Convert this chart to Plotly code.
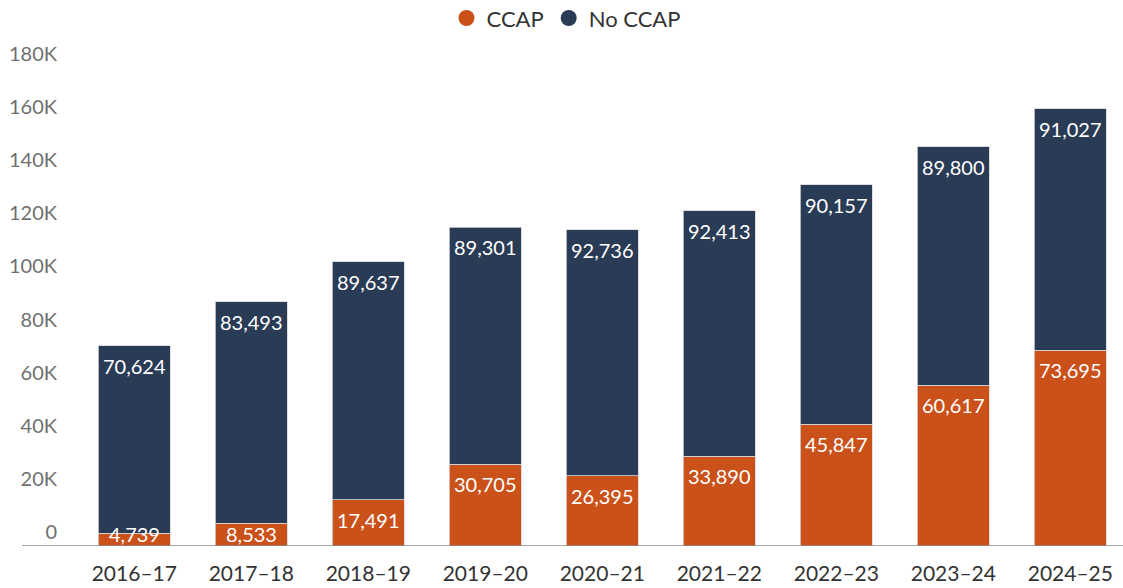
import plotly.graph_objects as go

years = ["2016–17", "2017–18", "2018–19", "2019–20", "2020–21",
         "2021–22", "2022–23", "2023–24", "2024–25"]
ccap = [4739, 8533, 17491, 30705, 26395, 33890, 45847, 60617, 73695]
no_ccap = [70624, 83493, 89637, 89301, 92736, 92413, 90157, 89800, 91027]
y_ticks = [0, 20000, 40000, 60000, 80000, 100000, 120000, 140000, 160000, 180000]
y_tick_text = ["0", "20K", "40K", "60K", "80K", "100K", "120K", "140K", "160K", "180K"]

ORANGE = "#CB511A"
NAVY = "#2A3B56"
FONT = "Lato"

fig = go.Figure()
fig.add_trace(go.Bar(x=years, y=ccap, name="CCAP", marker=dict(color=ORANGE, line=dict(color="#d6d6d6", width=0.8)),
                     showlegend=False, hoverinfo="y"))
fig.add_trace(go.Bar(x=years, y=no_ccap, name="No CCAP", marker=dict(color=NAVY, line=dict(color="#d6d6d6", width=0.8)),
                     showlegend=False, hoverinfo="y"))
# legend entries with circle markers
fig.add_trace(go.Scatter(x=[None], y=[None], mode="markers", name="CCAP",
                         marker=dict(color=ORANGE, size=20, symbol="circle")))
fig.add_trace(go.Scatter(x=[None], y=[None], mode="markers", name="No CCAP",
                         marker=dict(color=NAVY, size=20, symbol="circle")))

# value labels inside the top of each segment
MIN_OFFSET = 12100
annotations = []
for i, yr in enumerate(years):
    bottoms = [0, ccap[i]]
    tops = [ccap[i], ccap[i] + no_ccap[i]]
    vals = [ccap[i], no_ccap[i]]
    for b, t, v in zip(bottoms, tops, vals):
        annotations.append(dict(
            x=yr, y=max(t, b + MIN_OFFSET), xref="x", yref="y",
            text=f"{v:,}", showarrow=False, yanchor="top", xanchor="center",
            yshift=-6, font=dict(family=FONT, size=20, color="white")))

fig.update_layout(
    width=1123, height=588,
    margin=dict(l=58, r=0, t=68, b=42, autoexpand=False),
    paper_bgcolor="white", plot_bgcolor="white",
    barmode="stack", bargap=0.385,
    font=dict(family=FONT, size=20, color="#333333"),
    legend=dict(orientation="h", x=0.4770, xanchor="center", yref="container", y=0.969, yanchor="middle",
                font=dict(family=FONT, size=22, color="#333333"), itemsizing="trace",
                traceorder="normal", itemwidth=30),
    annotations=annotations,
    shapes=[dict(type="line", xref="paper", yref="y", x0=-0.0338, x1=1, y0=0, y1=0,
                 line=dict(color="#8a8a8a", width=1.5), layer="above")],
)
fig.update_xaxes(range=[-0.652, 8.45], showgrid=False, showline=False, automargin=False,
                 ticks="outside", ticklen=9, tickcolor="rgba(0,0,0,0)",
                 tickfont=dict(family=FONT, size=21, color="#333333"))
fig.update_yaxes(range=[0, 180000], showgrid=False, zeroline=False, showline=False, automargin=False,
                 tickvals=y_ticks, ticktext=y_tick_text, ticklabelposition="outside top",
                 tickfont=dict(family=FONT, size=20, color="#6f6f6f"))

fig.write_html("out.html", config={"displayModeBar": False},
               post_script="document.body.style.margin='0';")
